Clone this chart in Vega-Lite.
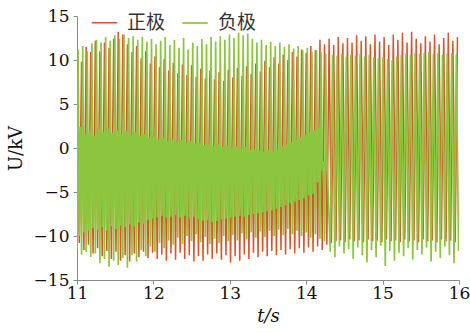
{
"$schema":"https://vega.github.io/schema/vega-lite/v6.json",
"width":382,"height":264,
"autosize":{"type":"none"},
"padding":{"left":77,"top":16,"right":11,"bottom":53},
"data":{"values":[
{"t":11.000,"正极":10.6,"负极":-11.6},{"t":11.015,"负极":11.2},{"t":11.030,"正极":-10.8,"负极":-10.0},{"t":11.045,"负极":2.4},
{"t":11.060,"正极":9.8,"负极":-12.1},{"t":11.075,"负极":11.6},{"t":11.090,"正极":-11.6,"负极":-9.6},{"t":11.105,"负极":1.6},
{"t":11.120,"正极":11.5,"负极":-11.8},{"t":11.135,"负极":11.0},{"t":11.150,"正极":-11.0,"负极":-9.4},{"t":11.165,"负极":1.9},
{"t":11.180,"正极":10.9,"负极":-12.4},{"t":11.195,"负极":11.9},{"t":11.210,"正极":-12.0,"负极":-9.1},{"t":11.225,"负极":1.4},
{"t":11.240,"正极":12.2,"负极":-12.0},{"t":11.255,"负极":12.3},{"t":11.270,"正极":-11.4,"负极":-9.3},{"t":11.285,"负极":2.1},
{"t":11.300,"正极":11.0,"负极":-13.1},{"t":11.315,"负极":12.0},{"t":11.330,"正极":-12.3,"负极":-9.0},{"t":11.345,"负极":1.8},
{"t":11.360,"正极":12.0,"负极":-12.6},{"t":11.375,"负极":12.6},{"t":11.390,"正极":-11.7,"负极":-9.4},{"t":11.405,"负极":2.2},
{"t":11.420,"正极":11.4,"负极":-13.5},{"t":11.435,"负极":12.2},{"t":11.450,"正极":-12.6,"负极":-8.9},{"t":11.465,"负极":1.7},
{"t":11.480,"正极":12.4,"负极":-12.8},{"t":11.495,"负极":12.8},{"t":11.510,"正极":-11.8,"负极":-9.2},{"t":11.525,"负极":2.0},
{"t":11.540,"正极":13.2,"负极":-13.3},{"t":11.555,"负极":12.4},{"t":11.570,"正极":-12.8,"负极":-8.8},{"t":11.585,"负极":1.6},
{"t":11.600,"正极":12.9,"负极":-12.5},{"t":11.615,"负极":12.9},{"t":11.630,"正极":-12.2,"负极":-9.0},{"t":11.645,"负极":1.9},
{"t":11.660,"正极":11.8,"负极":-13.6},{"t":11.675,"负极":12.5},{"t":11.690,"正极":-12.9,"负极":-8.7},{"t":11.705,"负极":1.5},
{"t":11.720,"正极":10.9,"负极":-12.2},{"t":11.735,"负极":12.7},{"t":11.750,"正极":-12.0,"负极":-8.9},{"t":11.765,"负极":1.8},
{"t":11.780,"正极":11.6,"负极":-12.9},{"t":11.795,"负极":12.3},{"t":11.810,"正极":-12.4,"负极":-8.5},{"t":11.825,"负极":1.4},
{"t":11.840,"正极":10.2,"负极":-11.6},{"t":11.855,"负极":12.6},{"t":11.870,"正极":-11.8,"负极":-8.6},{"t":11.885,"负极":1.6},
{"t":11.900,"正极":11.0,"负极":-12.3},{"t":11.915,"负极":12.1},{"t":11.930,"正极":-12.5,"负极":-8.2},{"t":11.945,"负极":1.2},
{"t":11.960,"正极":9.6,"负极":-11.2},{"t":11.975,"负极":12.4},{"t":11.990,"正极":-11.9,"负极":-8.0},{"t":12.005,"负极":1.3},
{"t":12.020,"正极":10.4,"负极":-11.8},{"t":12.035,"负极":11.8},{"t":12.050,"正极":-12.6,"负极":-7.9},{"t":12.065,"负极":1.0},
{"t":12.080,"正极":9.2,"负极":-10.8},{"t":12.095,"负极":12.2},{"t":12.110,"正极":-12.1,"负极":-7.7},{"t":12.125,"负极":1.1},
{"t":12.140,"正极":10.1,"负极":-11.4},{"t":12.155,"负极":12.6},{"t":12.170,"正极":-12.8,"负极":-7.9},{"t":12.185,"负极":0.8},
{"t":12.200,"正极":8.8,"负极":-10.5},{"t":12.215,"负极":11.7},{"t":12.230,"正极":-12.0,"负极":-7.8},{"t":12.245,"负极":1.0},
{"t":12.260,"正极":9.7,"负极":-11.0},{"t":12.275,"负极":12.3},{"t":12.290,"正极":-12.7,"负极":-7.6},{"t":12.305,"负极":0.7},
{"t":12.320,"正极":8.5,"负极":-10.2},{"t":12.335,"负极":11.4},{"t":12.350,"正极":-11.9,"负极":-7.9},{"t":12.365,"负极":0.9},
{"t":12.380,"正极":9.5,"负极":-10.9},{"t":12.395,"负极":12.5},{"t":12.410,"正极":-12.6,"负极":-7.7},{"t":12.425,"负极":0.6},
{"t":12.440,"正极":8.3,"负极":-10.0},{"t":12.455,"负极":11.2},{"t":12.470,"正极":-12.2,"负极":-8.0},{"t":12.485,"负极":0.8},
{"t":12.500,"正极":9.4,"负极":-10.6},{"t":12.515,"负极":12.0},{"t":12.530,"正极":-12.9,"负极":-7.8},{"t":12.545,"负极":0.5},
{"t":12.560,"正极":8.1,"负极":-9.8},{"t":12.575,"负极":11.6},{"t":12.590,"正极":-12.3,"负极":-8.1},{"t":12.605,"负极":0.6},
{"t":12.620,"正极":9.0,"负极":-10.7},{"t":12.635,"负极":12.4},{"t":12.650,"正极":-12.8,"负极":-8.3},{"t":12.665,"负极":0.3},
{"t":12.680,"正极":7.9,"负极":-10.1},{"t":12.695,"负极":11.8},{"t":12.710,"正极":-12.1,"负极":-8.2},{"t":12.725,"负极":0.5},
{"t":12.740,"正极":8.8,"负极":-10.9},{"t":12.755,"负极":12.6},{"t":12.770,"正极":-12.6,"负极":-8.4},{"t":12.785,"负极":0.2},
{"t":12.800,"正极":7.8,"负极":-10.3},{"t":12.815,"负极":12.1},{"t":12.830,"正极":-12.0,"负极":-8.3},{"t":12.845,"负极":0.4},
{"t":12.860,"正极":8.6,"负极":-10.8},{"t":12.875,"负极":12.7},{"t":12.890,"正极":-12.7,"负极":-8.1},{"t":12.905,"负极":0.1},
{"t":12.920,"正极":7.6,"负极":-10.0},{"t":12.935,"负极":12.3},{"t":12.950,"正极":-12.2,"负极":-8.0},{"t":12.965,"负极":0.3},
{"t":12.980,"正极":8.9,"负极":-10.6},{"t":12.995,"负极":12.9},{"t":13.010,"正极":-13.0,"负极":-7.9},{"t":13.025,"负极":0.0},
{"t":13.040,"正极":8.0,"负极":-9.9},{"t":13.055,"负极":12.5},{"t":13.070,"正极":-12.3,"负极":-7.8},{"t":13.085,"负极":0.2},
{"t":13.100,"正极":9.1,"负极":-10.5},{"t":13.115,"负极":13.1},{"t":13.130,"正极":-12.8,"负极":-7.7},{"t":13.145,"负极":-0.1},
{"t":13.160,"正极":8.2,"负极":-9.7},{"t":13.175,"负极":12.8},{"t":13.190,"正极":-12.1,"负极":-7.8},{"t":13.205,"负极":0.1},
{"t":13.220,"正极":9.3,"负极":-10.4},{"t":13.235,"负极":13.0},{"t":13.250,"正极":-12.6,"负极":-7.6},{"t":13.265,"负极":-0.2},
{"t":13.280,"正极":8.4,"负极":-9.6},{"t":13.295,"负极":12.4},{"t":13.310,"正极":-11.9,"负极":-7.5},{"t":13.325,"负极":-0.1},
{"t":13.340,"正极":9.6,"负极":-10.2},{"t":13.355,"负极":12.0},{"t":13.370,"正极":-12.4,"负极":-7.4},{"t":13.385,"负极":-0.3},
{"t":13.400,"正极":8.7,"负极":-9.5},{"t":13.415,"负极":12.3},{"t":13.430,"正极":-11.8,"负极":-7.3},{"t":13.445,"负极":-0.4},
{"t":13.460,"正极":9.9,"负极":-10.1},{"t":13.475,"负极":11.7},{"t":13.490,"正极":-12.3,"负极":-7.2},{"t":13.505,"负极":-0.2},
{"t":13.520,"正极":9.2,"负极":-9.4},{"t":13.535,"负极":12.1},{"t":13.550,"正极":-11.7,"负极":-7.1},{"t":13.565,"负极":-0.4},
{"t":13.580,"正极":10.3,"负极":-10.0},{"t":13.595,"负极":11.6},{"t":13.610,"正极":-12.2,"负极":-6.9},{"t":13.625,"负极":-0.1},
{"t":13.640,"正极":9.6,"负极":-9.3},{"t":13.655,"负极":12.0},{"t":13.670,"正极":-11.6,"负极":-6.7},{"t":13.685,"负极":0.2},
{"t":13.700,"正极":10.6,"负极":-9.9},{"t":13.715,"负极":11.5},{"t":13.730,"正极":-12.1,"负极":-6.5},{"t":13.745,"负极":0.4},
{"t":13.760,"正极":10.0,"负极":-9.2},{"t":13.775,"负极":11.8},{"t":13.790,"正极":-11.5,"负极":-6.3},{"t":13.805,"负极":0.6},
{"t":13.820,"正极":10.9,"负极":-9.8},{"t":13.835,"负极":11.3},{"t":13.850,"正极":-12.0,"负极":-6.1},{"t":13.865,"负极":0.9},
{"t":13.880,"正极":10.4,"负极":-9.4},{"t":13.895,"负极":11.6},{"t":13.910,"正极":-11.4,"负极":-5.9},{"t":13.925,"负极":1.2},
{"t":13.940,"正极":11.2,"负极":-10.0},{"t":13.955,"负极":11.1},{"t":13.970,"正极":-11.9,"负极":-5.7},{"t":13.985,"负极":1.5},
{"t":14.000,"正极":10.8,"负极":-9.6},{"t":14.015,"负极":11.4},{"t":14.030,"正极":-11.3,"负极":-5.4},{"t":14.045,"负极":1.8},
{"t":14.060,"正极":11.6,"负极":-10.2},{"t":14.075,"负极":10.9},{"t":14.090,"正极":-11.8,"负极":-5.2},{"t":14.105,"负极":2.0},
{"t":14.120,"正极":11.1,"负极":-9.8},{"t":14.135,"负极":11.1},{"t":14.150,"正极":-11.2,"负极":-3.9},{"t":14.165,"负极":2.3},
{"t":14.180,"正极":12.3,"负极":-10.3},{"t":14.195,"负极":10.9},{"t":14.210,"正极":-11.6,"负极":-2.6},{"t":14.225,"负极":-1.5},
{"t":14.240,"正极":11.8,"负极":-10.6},{"t":14.255,"负极":10.7},{"t":14.270,"正极":-11.0,"负极":-0.8},
{"t":14.300,"正极":12.4},{"t":14.315,"负极":-11.8},{"t":14.330,"正极":-10.8},{"t":14.345,"负极":10.6},
{"t":14.360,"正极":11.7},{"t":14.375,"负极":-12.4},{"t":14.390,"正极":-10.6},{"t":14.405,"负极":10.5},
{"t":14.420,"正极":12.6},{"t":14.435,"负极":-11.2},{"t":14.450,"正极":-10.5},{"t":14.465,"负极":10.7},
{"t":14.480,"正极":11.9},{"t":14.495,"负极":-12.0},{"t":14.510,"正极":-10.7},{"t":14.525,"负极":10.4},
{"t":14.540,"正极":12.5},{"t":14.555,"负极":-11.5},{"t":14.570,"正极":-10.4},{"t":14.585,"负极":10.6},
{"t":14.600,"正极":12.0},{"t":14.615,"负极":-12.6},{"t":14.630,"正极":-10.6},{"t":14.645,"负极":10.5},
{"t":14.660,"正极":12.8},{"t":14.675,"负极":-11.3},{"t":14.690,"正极":-10.5},{"t":14.705,"负极":10.7},
{"t":14.720,"正极":12.2},{"t":14.735,"负极":-12.2},{"t":14.750,"正极":-10.7},{"t":14.765,"负极":10.4},
{"t":14.780,"正极":12.7},{"t":14.795,"负极":-13.0},{"t":14.810,"正极":-10.4},{"t":14.825,"负极":10.6},
{"t":14.840,"正极":11.8},{"t":14.855,"负极":-11.6},{"t":14.870,"正极":-10.6},{"t":14.885,"负极":10.3},
{"t":14.900,"正极":12.9},{"t":14.915,"负极":-12.4},{"t":14.930,"正极":-10.5},{"t":14.945,"负极":10.2},
{"t":14.960,"正极":12.1},{"t":14.975,"负极":-11.1},{"t":14.990,"正极":-10.7},{"t":15.005,"负极":10.3},
{"t":15.020,"正极":12.6},{"t":15.035,"负极":-13.4},{"t":15.050,"正极":-10.4},{"t":15.065,"负极":10.1},
{"t":15.080,"正极":11.7},{"t":15.095,"负极":-11.7},{"t":15.110,"正极":-10.6},{"t":15.125,"负极":10.0},
{"t":15.140,"正极":12.9},{"t":15.155,"负极":-12.8},{"t":15.170,"正极":-10.5},{"t":15.185,"负极":10.4},
{"t":15.200,"正极":12.3},{"t":15.215,"负极":-11.9},{"t":15.230,"正极":-10.7},{"t":15.245,"负极":10.6},
{"t":15.260,"正极":13.1},{"t":15.275,"负极":-12.3},{"t":15.290,"正极":-10.4},{"t":15.305,"负极":10.7},
{"t":15.320,"正极":12.0},{"t":15.335,"负极":-11.4},{"t":15.350,"正极":-10.6},{"t":15.365,"负极":10.6},
{"t":15.380,"正极":13.2},{"t":15.395,"负极":-12.7},{"t":15.410,"正极":-10.5},{"t":15.425,"负极":10.8},
{"t":15.440,"正极":12.4},{"t":15.455,"负极":-11.6},{"t":15.470,"正极":-10.7},{"t":15.485,"负极":10.7},
{"t":15.500,"正极":11.9},{"t":15.515,"负极":-12.1},{"t":15.530,"正极":-10.4},{"t":15.545,"负极":10.8},
{"t":15.560,"正极":12.7},{"t":15.575,"负极":-11.3},{"t":15.590,"正极":-10.6},{"t":15.605,"负极":10.9},
{"t":15.620,"正极":12.1},{"t":15.635,"负极":-12.9},{"t":15.650,"正极":-10.5},{"t":15.665,"负极":10.7},
{"t":15.680,"正极":12.9},{"t":15.695,"负极":-11.8},{"t":15.710,"正极":-10.7},{"t":15.725,"负极":10.8},
{"t":15.740,"正极":11.8},{"t":15.755,"负极":-12.5},{"t":15.770,"正极":-10.4},{"t":15.785,"负极":10.6},
{"t":15.800,"正极":12.5},{"t":15.815,"负极":-11.2},{"t":15.830,"正极":-10.6},{"t":15.845,"负极":10.7},
{"t":15.860,"正极":13.1},{"t":15.875,"负极":-12.2},{"t":15.890,"正极":-10.5},{"t":15.905,"负极":10.8},
{"t":15.920,"正极":12.2},{"t":15.935,"负极":-13.1},{"t":15.950,"正极":-10.7},{"t":15.965,"负极":10.6},
{"t":15.980,"正极":12.6},{"t":15.995,"负极":-11.7}
]},
"transform":[{"fold":["正极","负极"],"as":["series","U"]},{"filter":"isValid(datum.U)"}],
"mark":{"type":"line","clip":true},
"encoding":{
"x":{"field":"t","type":"quantitative","scale":{"domain":[11,16],"nice":false,"zero":false},
"axis":{"values":[11,12,13,14,15,16],"title":"t/s","grid":false,"tickSize":4,"labelPadding":1,"labelFlush":false,"labelFont":"DejaVu Serif","labelFontSize":17,"labelColor":"#111","titleFont":"DejaVu Serif","titleFontSize":18,"titleFontWeight":"normal","titleFontStyle":"italic","titleColor":"#111","titlePadding":6}},
"y":{"field":"U","type":"quantitative","scale":{"domain":[-15,15],"nice":false,"zero":false},
"axis":{"values":[-15,-10,-5,0,5,10,15],"title":"U/kV","grid":false,"tickSize":4,"labelPadding":4,"labelFlush":false,"labelFont":"DejaVu Serif","labelFontSize":17,"labelColor":"#111","titleFont":"DejaVu Serif","titleFontSize":18,"titleFontWeight":"normal","titleColor":"#111","titlePadding":8}},
"color":{"field":"series","type":"nominal","scale":{"domain":["正极","负极"],"range":["#d9542c","#8cc63e"]},
"legend":{"orient":"none","legendX":14,"legendY":-7,"direction":"horizontal","title":null,"symbolType":"stroke","symbolSize":650,"symbolStrokeWidth":1.5,"labelFont":"Noto Sans CJK SC","labelFontSize":19,"labelColor":"#333","labelOffset":9,"columnPadding":12}},
"strokeWidth":{"field":"series","type":"nominal","scale":{"domain":["正极","负极"],"range":[1.5,1.7]},"legend":null}
},
"config":{"view":{"stroke":null}}
}
